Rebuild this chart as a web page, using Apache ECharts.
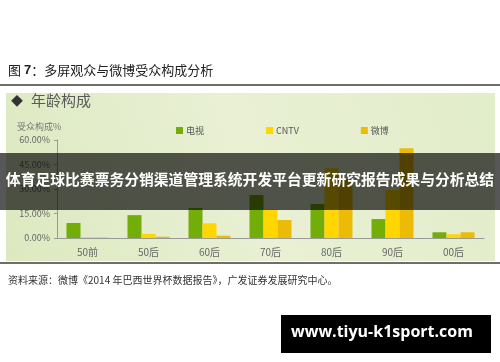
<!DOCTYPE html>
<html>
<head>
<meta charset="utf-8">
<style>
  html, body { margin: 0; padding: 0; background: #fff; }
  #chart { width: 500px; height: 362px; }
</style>
<script src="https://cdn.jsdelivr.net/npm/echarts@6/dist/echarts.min.js"></script>
</head>
<body>
<div id="chart"></div>
<script>
// 年龄段
const ages = ['50前', '50后', '60后', '70后', '80后', '90后', '00后']
// 受众构成 %
const tvShare = [9.2, 14.0, 18.4, 26.3, 20.8, 11.6, 3.5]
const cntvShare = [0.5, 2.5, 9.0, 17.5, 42.7, 29.4, 2.3]
const weiboShare = [0.3, 0.8, 1.4, 11.0, 36.0, 55.0, 3.5]
const yTicks = { min: 0, max: 60, step: 15 }

const font = '"Noto Sans CJK SC", "Noto Sans", sans-serif'

const chart = echarts.init(document.getElementById('chart'))
chart.setOption({
  animation: false,
  textStyle: { fontFamily: font },
  color: ['#72ad08', '#ffd600', '#ebbb06'],
  graphic: [
    // 报告标题 & 分隔线
    {
      type: 'text', left: 8, top: 64,
      style: {
        text: '图 {b|7}：多屏观众与微博受众构成分析',
        fill: '#222', font: '13px ' + font,
        rich: { b: { fontWeight: 'bold', fontSize: 13, fontFamily: 'Liberation Sans, sans-serif', fill: '#222' } },
      },
    },
    { type: 'rect', left: 0, top: 84, shape: { width: 500, height: 2 }, style: { fill: '#6e6e6e' } },
    // 面板背景
    {
      type: 'rect', left: 6, top: 93, z: -10,
      shape: { width: 489, height: 168 },
      style: {
        fill: new echarts.graphic.LinearGradient(0, 1, 1, 0, [
          { offset: 0, color: '#dce9c0' },
          { offset: 0.5, color: '#e9f0d4' },
          { offset: 1, color: '#e2edca' },
        ]),
      },
    },
    { type: 'text', left: 11, top: 95, style: { text: '◆', fill: '#333', font: '12px ' + font } },
    { type: 'text', left: 31, top: 93, style: { text: '年龄构成', fill: '#5a5a5a', font: '15px ' + font } },
    { type: 'text', left: 17, top: 122, style: { text: '受众构成%', fill: '#777', font: '9px ' + font } },
    { type: 'rect', left: 0, top: 262, shape: { width: 500, height: 2 }, style: { fill: '#6e6e6e' } },
    { type: 'text', left: 8, top: 275, style: { text: '资料来源：微博《2014 年巴西世界杯数据报告》，广发证券发展研究中心。', fill: '#333', font: '10px ' + font } },
    // 覆盖横幅
    { type: 'rect', left: 0, top: 153, z: 100, shape: { width: 500, height: 57 }, style: { fill: 'rgba(0,0,0,0.66)' } },
    { type: 'text', left: 'center', top: 172, z: 101, style: { text: '体育足球比赛票务分销渠道管理系统开发平台更新研究报告成果与分析总结', fill: '#fff', font: 'bold 14.8px ' + font } },
    // 水印
    { type: 'rect', left: 281, top: 315, z: 100, shape: { width: 210, height: 38 }, style: { fill: '#000' } },
    { type: 'text', left: 291, top: 324, z: 101, style: { text: 'www.tiyu-k1sport.com', fill: '#fff', font: 'bold 16px "Open Sans", sans-serif' } },
  ],
  legend: {
    left: 171, top: 121,
    itemWidth: 7, itemHeight: 7, itemGap: 62,
    icon: 'rect',
    textStyle: { fontSize: 9, color: '#555', padding: [0, 0, 0, -2] },
    data: ['电视', 'CNTV', '微博'],
  },
  grid: { left: 57, right: 16, top: 140, bottom: 124 },
  xAxis: {
    type: 'category',
    data: ages,
    axisLine: { lineStyle: { color: '#999' } },
    axisTick: { lineStyle: { color: '#999' }, length: 3 },
    axisLabel: { color: '#666', fontSize: 10, margin: 9 },
  },
  yAxis: {
    type: 'value',
    min: yTicks.min, max: yTicks.max, interval: yTicks.step,
    axisLine: { show: true, lineStyle: { color: '#999' } },
    axisTick: { show: true, length: 3, lineStyle: { color: '#999' } },
    splitLine: { show: false },
    axisLabel: { color: '#666', fontSize: 9, margin: 7, formatter: v => v.toFixed(2) + '%' },
  },
  series: [
    { name: '电视', type: 'bar', data: tvShare, barWidth: 14, barGap: '0%' },
    { name: 'CNTV', type: 'bar', data: cntvShare, barWidth: 14, barGap: '0%' },
    { name: '微博', type: 'bar', data: weiboShare, barWidth: 14, barGap: '0%' },
  ],
})
</script>
</body>
</html>
